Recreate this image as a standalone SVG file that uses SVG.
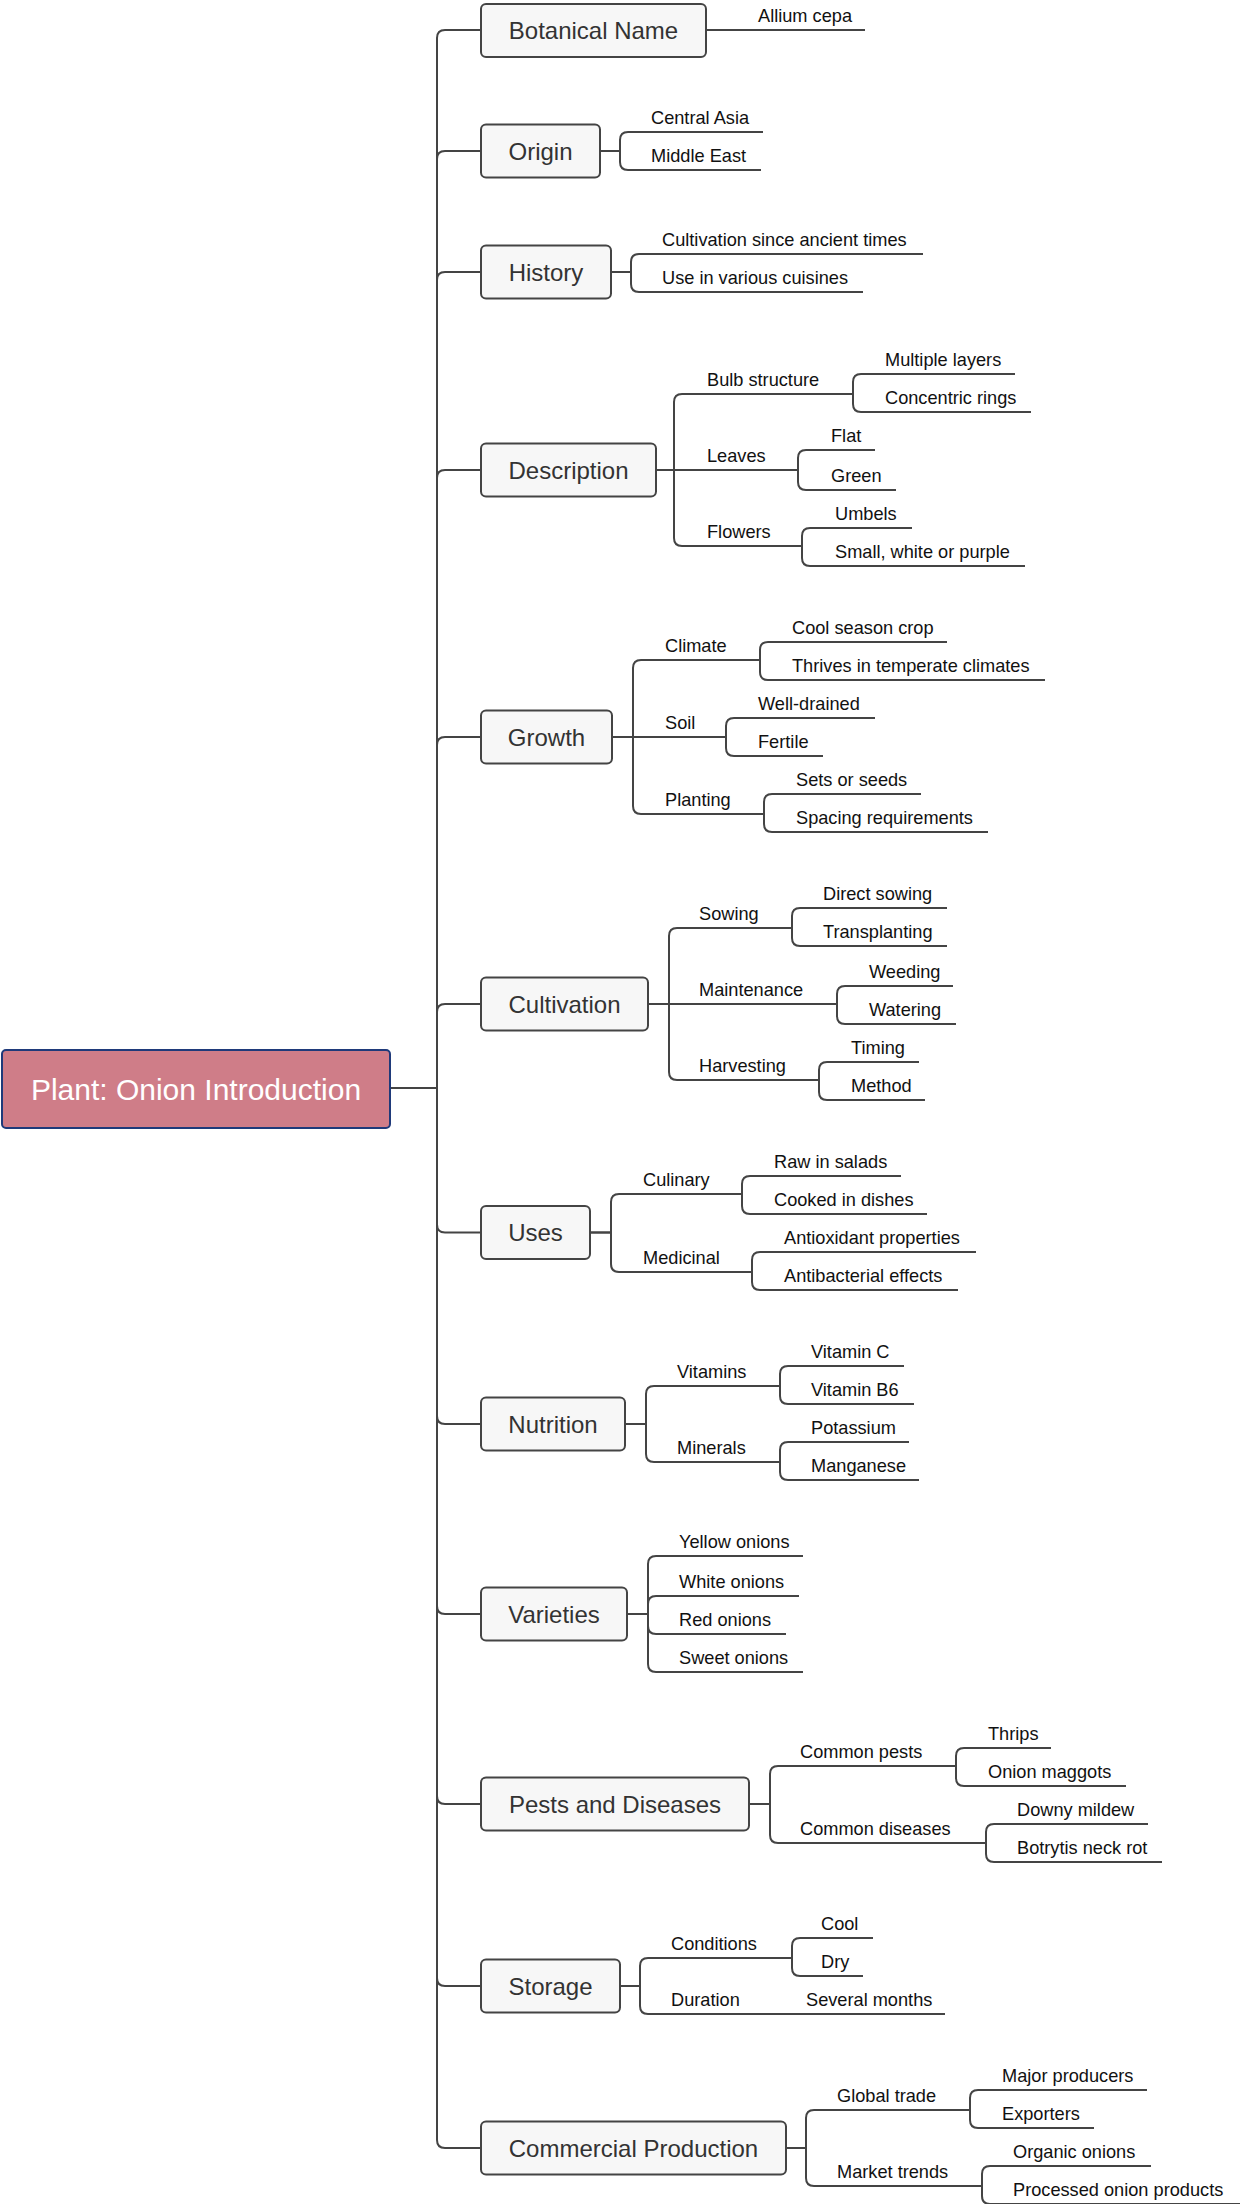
<svg xmlns="http://www.w3.org/2000/svg" width="1240" height="2204" viewBox="0 0 1240 2204">
<style>
.bg{fill:#ffffff}
.box{fill:#f7f7f7;stroke:#444;stroke-width:2}
.root{fill:#cf7d88;stroke:#1f3a7a;stroke-width:2}
.t0{font-family:"Liberation Sans",Arial,sans-serif;font-size:30px;fill:#ffffff;text-anchor:middle}
.t1{font-family:"Liberation Sans",Arial,sans-serif;font-size:24px;fill:#333333;text-anchor:middle}
.t2{font-family:"Liberation Sans",Arial,sans-serif;font-size:18.2px;fill:#111111}
.ul{stroke:#444;stroke-width:2}
.c{fill:none;stroke:#444;stroke-width:2}
</style>
<rect class="bg" x="0" y="0" width="1240" height="2204"/>
<g id="connectors">
<path class="c" d="M390 1088 H437 V38 Q437 30 445 30 H481"/>
<path class="c" d="M390 1088 H437 V159 Q437 151 445 151 H481"/>
<path class="c" d="M390 1088 H437 V280 Q437 272 445 272 H481"/>
<path class="c" d="M390 1088 H437 V478 Q437 470 445 470 H481"/>
<path class="c" d="M390 1088 H437 V745 Q437 737 445 737 H481"/>
<path class="c" d="M390 1088 H437 V1012 Q437 1004 445 1004 H481"/>
<path class="c" d="M390 1088 H437 V1224.5 Q437 1232.5 445 1232.5 H481"/>
<path class="c" d="M390 1088 H437 V1416 Q437 1424 445 1424 H481"/>
<path class="c" d="M390 1088 H437 V1606 Q437 1614 445 1614 H481"/>
<path class="c" d="M390 1088 H437 V1796 Q437 1804 445 1804 H481"/>
<path class="c" d="M390 1088 H437 V1978 Q437 1986 445 1986 H481"/>
<path class="c" d="M390 1088 H437 V2140 Q437 2148 445 2148 H481"/>
<path class="c" d="M706 30 H746"/>
<path class="c" d="M600 151 H620 V140 Q620 132 628 132 H639"/>
<path class="c" d="M600 151 H620 V162 Q620 170 628 170 H639"/>
<path class="c" d="M611 272 H631 V262 Q631 254 639 254 H650"/>
<path class="c" d="M611 272 H631 V284 Q631 292 639 292 H650"/>
<path class="c" d="M656 470 H674 V402 Q674 394 682 394 H695"/>
<path class="c" d="M656 470 H695"/>
<path class="c" d="M656 470 H674 V538 Q674 546 682 546 H695"/>
<path class="c" d="M834 394 H853 V382 Q853 374 861 374 H873"/>
<path class="c" d="M834 394 H853 V404 Q853 412 861 412 H873"/>
<path class="c" d="M779 470 H798 V458 Q798 450 806 450 H819"/>
<path class="c" d="M779 470 H798 V482 Q798 490 806 490 H819"/>
<path class="c" d="M785 546 H802 V536 Q802 528 810 528 H823"/>
<path class="c" d="M785 546 H802 V558 Q802 566 810 566 H823"/>
<path class="c" d="M612 737 H633 V668 Q633 660 641 660 H653"/>
<path class="c" d="M612 737 H653"/>
<path class="c" d="M612 737 H633 V806 Q633 814 641 814 H653"/>
<path class="c" d="M740 660 H760 V650 Q760 642 768 642 H780"/>
<path class="c" d="M740 660 H760 V672 Q760 680 768 680 H780"/>
<path class="c" d="M707 737 H726 V726 Q726 718 734 718 H746"/>
<path class="c" d="M707 737 H726 V748 Q726 756 734 756 H746"/>
<path class="c" d="M744 814 H764 V802 Q764 794 772 794 H784"/>
<path class="c" d="M744 814 H764 V824 Q764 832 772 832 H784"/>
<path class="c" d="M648 1004 H669 V936 Q669 928 677 928 H687"/>
<path class="c" d="M648 1004 H687"/>
<path class="c" d="M648 1004 H669 V1072 Q669 1080 677 1080 H687"/>
<path class="c" d="M772 928 H792 V916 Q792 908 800 908 H811"/>
<path class="c" d="M772 928 H792 V938 Q792 946 800 946 H811"/>
<path class="c" d="M817 1004 H837 V994 Q837 986 845 986 H857"/>
<path class="c" d="M817 1004 H837 V1016 Q837 1024 845 1024 H857"/>
<path class="c" d="M800 1080 H819 V1070 Q819 1062 827 1062 H839"/>
<path class="c" d="M800 1080 H819 V1092 Q819 1100 827 1100 H839"/>
<path class="c" d="M590 1232.5 H611 V1202 Q611 1194 619 1194 H631"/>
<path class="c" d="M590 1232.5 H611 V1264 Q611 1272 619 1272 H631"/>
<path class="c" d="M722 1194 H742 V1184 Q742 1176 750 1176 H762"/>
<path class="c" d="M722 1194 H742 V1206 Q742 1214 750 1214 H762"/>
<path class="c" d="M732 1272 H752 V1260 Q752 1252 760 1252 H772"/>
<path class="c" d="M732 1272 H752 V1282 Q752 1290 760 1290 H772"/>
<path class="c" d="M625 1424 H646 V1394 Q646 1386 654 1386 H665"/>
<path class="c" d="M625 1424 H646 V1454 Q646 1462 654 1462 H665"/>
<path class="c" d="M760 1386 H780 V1374 Q780 1366 788 1366 H799"/>
<path class="c" d="M760 1386 H780 V1396 Q780 1404 788 1404 H799"/>
<path class="c" d="M760 1462 H780 V1450 Q780 1442 788 1442 H799"/>
<path class="c" d="M760 1462 H780 V1472 Q780 1480 788 1480 H799"/>
<path class="c" d="M627 1614 H648 V1564 Q648 1556 656 1556 H667"/>
<path class="c" d="M627 1614 H648 V1604 Q648 1596 656 1596 H667"/>
<path class="c" d="M627 1614 H648 V1626 Q648 1634 656 1634 H667"/>
<path class="c" d="M627 1614 H648 V1664 Q648 1672 656 1672 H667"/>
<path class="c" d="M749 1804 H770 V1774 Q770 1766 778 1766 H788"/>
<path class="c" d="M749 1804 H770 V1835 Q770 1843 778 1843 H788"/>
<path class="c" d="M936 1766 H956 V1756 Q956 1748 964 1748 H976"/>
<path class="c" d="M936 1766 H956 V1778 Q956 1786 964 1786 H976"/>
<path class="c" d="M966 1843 H986 V1832 Q986 1824 994 1824 H1005"/>
<path class="c" d="M966 1843 H986 V1854 Q986 1862 994 1862 H1005"/>
<path class="c" d="M620 1986 H640 V1966 Q640 1958 648 1958 H659"/>
<path class="c" d="M620 1986 H640 V2006 Q640 2014 648 2014 H659"/>
<path class="c" d="M772 1958 H792 V1946 Q792 1938 800 1938 H809"/>
<path class="c" d="M772 1958 H792 V1968 Q792 1976 800 1976 H809"/>
<path class="c" d="M753 2014 H794"/>
<path class="c" d="M786 2148 H806 V2118 Q806 2110 814 2110 H825"/>
<path class="c" d="M786 2148 H806 V2178 Q806 2186 814 2186 H825"/>
<path class="c" d="M950 2110 H970 V2098 Q970 2090 978 2090 H990"/>
<path class="c" d="M950 2110 H970 V2120 Q970 2128 978 2128 H990"/>
<path class="c" d="M962 2186 H982 V2174 Q982 2166 990 2166 H1001"/>
<path class="c" d="M962 2186 H982 V2196 Q982 2204 990 2204 H1001"/>
</g>
<g id="root"><rect class="root" x="2" y="1050" width="388" height="78" rx="4"/><text class="t0" x="196" y="1100">Plant: Onion Introduction</text></g>
<g id="n-botanical"><rect class="box" x="481" y="4" width="225" height="53" rx="5"/><text class="t1" x="593.5" y="38.5">Botanical Name</text></g>
<g id="n-origin"><rect class="box" x="481" y="124.5" width="119" height="53" rx="5"/><text class="t1" x="540.5" y="159.5">Origin</text></g>
<g id="n-history"><rect class="box" x="481" y="245.5" width="130" height="53" rx="5"/><text class="t1" x="546" y="280.5">History</text></g>
<g id="n-description"><rect class="box" x="481" y="443.5" width="175" height="53" rx="5"/><text class="t1" x="568.5" y="478.5">Description</text></g>
<g id="n-growth"><rect class="box" x="481" y="710.5" width="131" height="53" rx="5"/><text class="t1" x="546.5" y="745.5">Growth</text></g>
<g id="n-cultivation"><rect class="box" x="481" y="977.5" width="167" height="53" rx="5"/><text class="t1" x="564.5" y="1012.5">Cultivation</text></g>
<g id="n-uses"><rect class="box" x="481" y="1206" width="109" height="53" rx="5"/><text class="t1" x="535.5" y="1241">Uses</text></g>
<g id="n-nutrition"><rect class="box" x="481" y="1397.5" width="144" height="53" rx="5"/><text class="t1" x="553" y="1432.5">Nutrition</text></g>
<g id="n-varieties"><rect class="box" x="481" y="1587.5" width="146" height="53" rx="5"/><text class="t1" x="554" y="1622.5">Varieties</text></g>
<g id="n-pests"><rect class="box" x="481" y="1777.5" width="268" height="53" rx="5"/><text class="t1" x="615" y="1812.5">Pests and Diseases</text></g>
<g id="n-storage"><rect class="box" x="481" y="1959.5" width="139" height="53" rx="5"/><text class="t1" x="550.5" y="1994.5">Storage</text></g>
<g id="n-commercial"><rect class="box" x="481" y="2121.5" width="305" height="53" rx="5"/><text class="t1" x="633.5" y="2156.5">Commercial Production</text></g>
<g id="n-allium"><line class="ul" x1="746" y1="30" x2="865" y2="30"/><text class="t2" x="758" y="21.5">Allium cepa</text></g>
<g id="n-central-asia"><line class="ul" x1="639" y1="132" x2="763" y2="132"/><text class="t2" x="651" y="123.5">Central Asia</text></g>
<g id="n-middle-east"><line class="ul" x1="639" y1="170" x2="761" y2="170"/><text class="t2" x="651" y="161.5">Middle East</text></g>
<g id="n-cultivation-since"><line class="ul" x1="650" y1="254" x2="923" y2="254"/><text class="t2" x="662" y="245.5">Cultivation since ancient times</text></g>
<g id="n-use-cuisines"><line class="ul" x1="650" y1="292" x2="863" y2="292"/><text class="t2" x="662" y="283.5">Use in various cuisines</text></g>
<g id="n-bulb"><line class="ul" x1="695" y1="394" x2="834" y2="394"/><text class="t2" x="707" y="385.5">Bulb structure</text></g>
<g id="n-multiple-layers"><line class="ul" x1="873" y1="374" x2="1015" y2="374"/><text class="t2" x="885" y="365.5">Multiple layers</text></g>
<g id="n-concentric"><line class="ul" x1="873" y1="412" x2="1031" y2="412"/><text class="t2" x="885" y="403.5">Concentric rings</text></g>
<g id="n-leaves"><line class="ul" x1="695" y1="470" x2="779" y2="470"/><text class="t2" x="707" y="461.5">Leaves</text></g>
<g id="n-flat"><line class="ul" x1="819" y1="450" x2="875" y2="450"/><text class="t2" x="831" y="441.5">Flat</text></g>
<g id="n-green"><line class="ul" x1="819" y1="490" x2="896" y2="490"/><text class="t2" x="831" y="481.5">Green</text></g>
<g id="n-flowers"><line class="ul" x1="695" y1="546" x2="785" y2="546"/><text class="t2" x="707" y="537.5">Flowers</text></g>
<g id="n-umbels"><line class="ul" x1="823" y1="528" x2="912" y2="528"/><text class="t2" x="835" y="519.5">Umbels</text></g>
<g id="n-small-white"><line class="ul" x1="823" y1="566" x2="1025" y2="566"/><text class="t2" x="835" y="557.5">Small, white or purple</text></g>
<g id="n-climate"><line class="ul" x1="653" y1="660" x2="740" y2="660"/><text class="t2" x="665" y="651.5">Climate</text></g>
<g id="n-cool-season"><line class="ul" x1="780" y1="642" x2="947" y2="642"/><text class="t2" x="792" y="633.5">Cool season crop</text></g>
<g id="n-thrives"><line class="ul" x1="780" y1="680" x2="1045" y2="680"/><text class="t2" x="792" y="671.5">Thrives in temperate climates</text></g>
<g id="n-soil"><line class="ul" x1="653" y1="737" x2="707" y2="737"/><text class="t2" x="665" y="728.5">Soil</text></g>
<g id="n-well-drained"><line class="ul" x1="746" y1="718" x2="875" y2="718"/><text class="t2" x="758" y="709.5">Well-drained</text></g>
<g id="n-fertile"><line class="ul" x1="746" y1="756" x2="823" y2="756"/><text class="t2" x="758" y="747.5">Fertile</text></g>
<g id="n-planting"><line class="ul" x1="653" y1="814" x2="744" y2="814"/><text class="t2" x="665" y="805.5">Planting</text></g>
<g id="n-sets"><line class="ul" x1="784" y1="794" x2="921" y2="794"/><text class="t2" x="796" y="785.5">Sets or seeds</text></g>
<g id="n-spacing"><line class="ul" x1="784" y1="832" x2="988" y2="832"/><text class="t2" x="796" y="823.5">Spacing requirements</text></g>
<g id="n-sowing"><line class="ul" x1="687" y1="928" x2="772" y2="928"/><text class="t2" x="699" y="919.5">Sowing</text></g>
<g id="n-direct"><line class="ul" x1="811" y1="908" x2="947" y2="908"/><text class="t2" x="823" y="899.5">Direct sowing</text></g>
<g id="n-transplanting"><line class="ul" x1="811" y1="946" x2="947" y2="946"/><text class="t2" x="823" y="937.5">Transplanting</text></g>
<g id="n-maintenance"><line class="ul" x1="687" y1="1004" x2="817" y2="1004"/><text class="t2" x="699" y="995.5">Maintenance</text></g>
<g id="n-weeding"><line class="ul" x1="857" y1="986" x2="953" y2="986"/><text class="t2" x="869" y="977.5">Weeding</text></g>
<g id="n-watering"><line class="ul" x1="857" y1="1024" x2="956" y2="1024"/><text class="t2" x="869" y="1015.5">Watering</text></g>
<g id="n-harvesting"><line class="ul" x1="687" y1="1080" x2="800" y2="1080"/><text class="t2" x="699" y="1071.5">Harvesting</text></g>
<g id="n-timing"><line class="ul" x1="839" y1="1062" x2="919" y2="1062"/><text class="t2" x="851" y="1053.5">Timing</text></g>
<g id="n-method"><line class="ul" x1="839" y1="1100" x2="925" y2="1100"/><text class="t2" x="851" y="1091.5">Method</text></g>
<g id="n-culinary"><line class="ul" x1="631" y1="1194" x2="722" y2="1194"/><text class="t2" x="643" y="1185.5">Culinary</text></g>
<g id="n-raw"><line class="ul" x1="762" y1="1176" x2="901" y2="1176"/><text class="t2" x="774" y="1167.5">Raw in salads</text></g>
<g id="n-cooked"><line class="ul" x1="762" y1="1214" x2="927" y2="1214"/><text class="t2" x="774" y="1205.5">Cooked in dishes</text></g>
<g id="n-medicinal"><line class="ul" x1="631" y1="1272" x2="732" y2="1272"/><text class="t2" x="643" y="1263.5">Medicinal</text></g>
<g id="n-antioxidant"><line class="ul" x1="772" y1="1252" x2="976" y2="1252"/><text class="t2" x="784" y="1243.5">Antioxidant properties</text></g>
<g id="n-antibacterial"><line class="ul" x1="772" y1="1290" x2="958" y2="1290"/><text class="t2" x="784" y="1281.5">Antibacterial effects</text></g>
<g id="n-vitamins"><line class="ul" x1="665" y1="1386" x2="760" y2="1386"/><text class="t2" x="677" y="1377.5">Vitamins</text></g>
<g id="n-vitamin-c"><line class="ul" x1="799" y1="1366" x2="904" y2="1366"/><text class="t2" x="811" y="1357.5">Vitamin C</text></g>
<g id="n-vitamin-b6"><line class="ul" x1="799" y1="1404" x2="914" y2="1404"/><text class="t2" x="811" y="1395.5">Vitamin B6</text></g>
<g id="n-minerals"><line class="ul" x1="665" y1="1462" x2="760" y2="1462"/><text class="t2" x="677" y="1453.5">Minerals</text></g>
<g id="n-potassium"><line class="ul" x1="799" y1="1442" x2="909" y2="1442"/><text class="t2" x="811" y="1433.5">Potassium</text></g>
<g id="n-manganese"><line class="ul" x1="799" y1="1480" x2="919" y2="1480"/><text class="t2" x="811" y="1471.5">Manganese</text></g>
<g id="n-yellow"><line class="ul" x1="667" y1="1556" x2="803" y2="1556"/><text class="t2" x="679" y="1547.5">Yellow onions</text></g>
<g id="n-white"><line class="ul" x1="667" y1="1596" x2="799" y2="1596"/><text class="t2" x="679" y="1587.5">White onions</text></g>
<g id="n-red"><line class="ul" x1="667" y1="1634" x2="786" y2="1634"/><text class="t2" x="679" y="1625.5">Red onions</text></g>
<g id="n-sweet"><line class="ul" x1="667" y1="1672" x2="803" y2="1672"/><text class="t2" x="679" y="1663.5">Sweet onions</text></g>
<g id="n-common-pests"><line class="ul" x1="788" y1="1766" x2="936" y2="1766"/><text class="t2" x="800" y="1757.5">Common pests</text></g>
<g id="n-thrips"><line class="ul" x1="976" y1="1748" x2="1051" y2="1748"/><text class="t2" x="988" y="1739.5">Thrips</text></g>
<g id="n-maggots"><line class="ul" x1="976" y1="1786" x2="1126" y2="1786"/><text class="t2" x="988" y="1777.5">Onion maggots</text></g>
<g id="n-common-diseases"><line class="ul" x1="788" y1="1843" x2="966" y2="1843"/><text class="t2" x="800" y="1834.5">Common diseases</text></g>
<g id="n-downy"><line class="ul" x1="1005" y1="1824" x2="1148" y2="1824"/><text class="t2" x="1017" y="1815.5">Downy mildew</text></g>
<g id="n-botrytis"><line class="ul" x1="1005" y1="1862" x2="1162" y2="1862"/><text class="t2" x="1017" y="1853.5">Botrytis neck rot</text></g>
<g id="n-conditions"><line class="ul" x1="659" y1="1958" x2="772" y2="1958"/><text class="t2" x="671" y="1949.5">Conditions</text></g>
<g id="n-cool"><line class="ul" x1="809" y1="1938" x2="873" y2="1938"/><text class="t2" x="821" y="1929.5">Cool</text></g>
<g id="n-dry"><line class="ul" x1="809" y1="1976" x2="863" y2="1976"/><text class="t2" x="821" y="1967.5">Dry</text></g>
<g id="n-duration"><line class="ul" x1="659" y1="2014" x2="753" y2="2014"/><text class="t2" x="671" y="2005.5">Duration</text></g>
<g id="n-several-months"><line class="ul" x1="794" y1="2014" x2="945" y2="2014"/><text class="t2" x="806" y="2005.5">Several months</text></g>
<g id="n-global-trade"><line class="ul" x1="825" y1="2110" x2="950" y2="2110"/><text class="t2" x="837" y="2101.5">Global trade</text></g>
<g id="n-major-producers"><line class="ul" x1="990" y1="2090" x2="1147" y2="2090"/><text class="t2" x="1002" y="2081.5">Major producers</text></g>
<g id="n-exporters"><line class="ul" x1="990" y1="2128" x2="1094" y2="2128"/><text class="t2" x="1002" y="2119.5">Exporters</text></g>
<g id="n-market-trends"><line class="ul" x1="825" y1="2186" x2="962" y2="2186"/><text class="t2" x="837" y="2177.5">Market trends</text></g>
<g id="n-organic"><line class="ul" x1="1001" y1="2166" x2="1151" y2="2166"/><text class="t2" x="1013" y="2157.5">Organic onions</text></g>
<g id="n-processed"><line class="ul" x1="1001" y1="2204" x2="1240" y2="2204"/><text class="t2" x="1013" y="2195.5">Processed onion products</text></g>
</svg>
